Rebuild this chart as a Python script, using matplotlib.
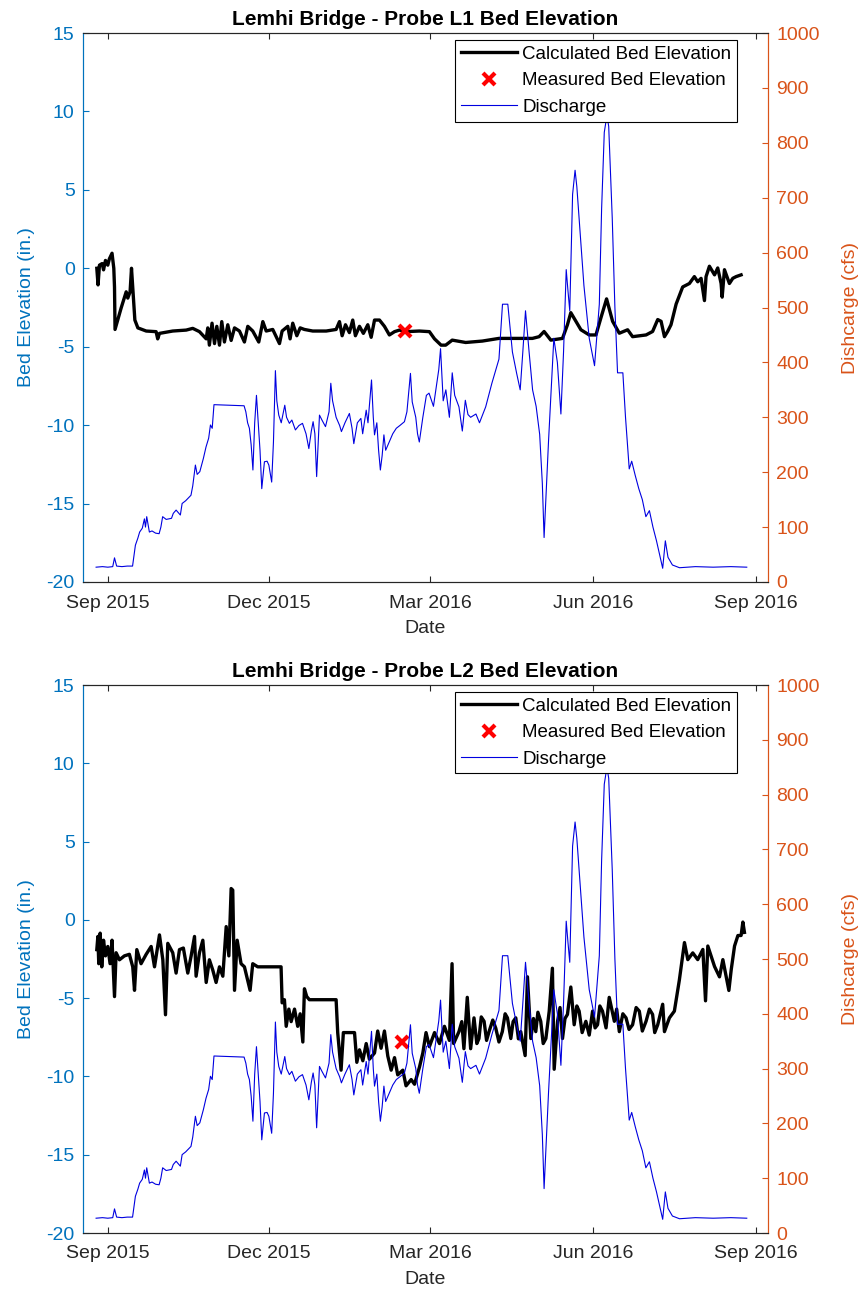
import numpy as np
import matplotlib
matplotlib.use('Agg')
import matplotlib.pyplot as plt
import matplotlib.dates as mdates

plt.rcParams['font.family'] = ['Liberation Sans', 'DejaVu Sans']
plt.rcParams['axes.unicode_minus'] = False

# dias desde 2015-09-01
inicio = np.datetime64('2015-09-01T00:00')

# --- Caudal (cfs), igual en ambas sondas ---
q_dias = [-6.6, -3, 0, 2.8, 3.8, 5, 8, 11, 14, 15.6, 17, 18, 19.5, 20.7, 21.3, 22, 23.5, 25, 27, 29,
          30, 31, 33, 36, 37, 38.6, 41, 42, 44, 47, 48, 49.5, 50.5, 52, 54, 55.5, 57, 58, 59, 60,
          77, 78, 79, 80, 81, 82, 83, 84, 85, 86, 87, 88.5, 90, 91, 92.6, 93.6, 94.7, 95.5, 96.6, 98,
          100, 101, 102.6, 104, 106, 108, 110, 112, 113.6, 115, 116, 117, 118, 119, 119.6, 121, 123, 125, 126, 127,
          129, 131, 132, 134, 136.5, 138, 139, 141, 143, 144, 146, 147, 149, 150, 150.7, 152, 153, 154, 155, 156,
          157, 159, 161, 163, 165, 167.6, 169, 171, 172, 174, 175, 176, 178, 180,
          181.5, 184, 187, 188, 189.5, 191, 193, 194.6, 196, 198.4, 200.3, 202, 203.5, 205, 208, 210, 213.5, 217,
          221, 223, 226, 228.6, 231, 233,
          234.5, 236, 238, 240, 242, 244, 245.5, 246.5, 247.5, 249, 251, 252, 254, 256, 257.5, 259, 260, 261,
          262.6, 264, 265, 267, 269, 272, 275, 277.7, 279, 280.5, 282, 283, 285, 286.5, 288, 291, 292.5, 294.6,
          296, 298, 300, 302, 304, 306, 308, 310, 313.5, 315, 316.5, 319, 323, 332, 342, 352, 361]
q_cfs = [27, 28, 27, 28, 44, 29, 28, 29, 29, 67, 80, 91, 98, 115, 100, 119, 91, 93, 89, 88,
         100, 119, 114, 116, 125, 131, 122, 143, 148, 158, 175, 213, 196, 201, 225, 246, 262, 286, 280, 323,
         321, 310, 290, 280, 250, 204, 290, 340, 290, 240, 170, 219, 220, 213, 182, 255, 385, 330, 304, 290,
         322, 300, 289, 295, 277, 285, 289, 270, 243, 275, 292, 270, 192, 260, 304, 295, 283, 310, 362, 330,
         300, 285, 274, 290, 307, 280, 252, 290, 298, 270, 313, 290, 368, 300, 268, 290, 240, 204, 230, 268,
         240, 255, 270, 280, 285, 292, 310, 380, 328, 300, 270, 255, 300, 340,
         344, 320, 387, 425, 330, 350, 300, 381, 340, 319, 275, 331, 305, 300, 306, 290, 319, 362,
         406, 506, 506, 419, 380, 350,
         420, 494, 420, 350, 320, 269, 180, 81, 150, 256, 380, 444, 400, 306, 420, 569, 530, 494,
         706, 750, 720, 631, 540, 444, 394, 506, 680, 819, 850, 830, 663, 500, 381, 381, 300, 206,
         220, 194, 170, 150, 119, 130, 100, 75, 25, 75, 45, 31, 26, 28, 27, 28, 27]

# --- Elevacion del lecho, sonda L1 (in.) ---
l1_dias = [-6.2, -5.5, -4.7, -3.2, -2.4, -1.3, 0, 0.9, 2.4, 3.4, 3.8, 4.1, 7.5, 10.4, 11.3, 12.6, 13.4, 14.5,
           15.3, 17, 21.7, 27.3, 28.2, 29.2, 36.7, 44.3, 48, 51.8, 55.6, 56.5, 57.4, 58.9, 60.3, 61.6, 63.1,
           64.4, 65.9, 67.8, 69.7, 71.6, 74.4, 77.2, 79.1, 81.9, 85.3, 87.6, 89.5, 93.2, 97, 98.5, 101.7, 103,
           104.5, 106.8, 108.7, 111.1, 115.8, 123.4, 129, 130.9, 132.4, 134.3, 136.5, 138.4, 139.9, 142.2,
           144.4, 146.9, 148.8, 150.7, 153.5, 156.3, 159.1, 162, 164.8, 168.5, 176, 181.7, 184.6, 188.3, 190.9,
           194.6, 202.2, 211.6, 221, 230.5, 239.9, 243.7, 246.5, 250.3, 256.9, 259.7, 261.6, 264.5, 267.3,
           272, 275.8, 278.6, 281.8, 285.2, 289, 293.7, 296.5, 304.1, 307.8, 310.7, 312.6, 314.5, 316.3,
           318.2, 321.1, 324.8, 328.6, 331.4, 333.3, 335.2, 337.1, 338, 339.9, 342.8, 344.6, 346.5, 347.1,
           348.4, 351.2, 353.1, 355, 357.8]
l1_elev = [0, -1.06, 0.2, 0.3, -0.1, 0.5, 0.2, 0.6, 0.96, 0, -1.2, -3.9, -2.55, -1.5, -1.9, -1.5, 0, -1.9,
           -3.3, -3.8, -4.0, -4.04, -4.5, -4.15, -4.0, -3.94, -3.83, -4.04, -4.5, -3.8, -4.9, -3.5, -4.8, -3.7, -4.9,
           -3.4, -4.7, -3.6, -4.6, -3.8, -4.0, -4.7, -3.7, -4.0, -4.7, -3.4, -4.0, -3.9, -4.8, -4.0, -3.7, -4.5,
           -3.5, -4.3, -3.8, -3.9, -4.0, -4.0, -3.9, -3.4, -4.3, -3.6, -4.1, -3.3, -4.3, -3.7,
           -4.15, -3.6, -4.4, -3.3, -3.3, -3.7, -4.25, -4.04, -3.94, -4.04, -4.0, -4.04, -4.5, -4.9, -4.9,
           -4.58, -4.73, -4.64, -4.47, -4.47, -4.47, -4.36, -4.03, -4.58, -4.47, -3.6, -2.83, -3.38, -3.92,
           -4.25, -4.25, -3.16, -1.95, -3.38, -4.14, -3.92, -4.36, -4.25, -4.03, -3.27, -3.38, -4.36, -4.03,
           -3.6, -2.28, -1.19, -0.97, -0.53, -0.86, -0.64, -2.06, -0.53, 0.13, -0.42, 0.02, -0.97, -1.84,
           -0.09, -0.97, -0.64, -0.53, -0.42]

# --- Elevacion del lecho, sonda L2 (in.) ---
l2_dias = [-6.2, -5.6, -5.1, -4.3, -3.4, -2.4, -1.3, 0, 1.3, 2.4, 3.8, 4.7, 6.6, 9.4, 12.2, 14.1, 15.1, 16.4,
           18.8, 21.7, 24.5, 26.4, 29.2, 31.1, 32.6, 33.9, 36.7, 38.6, 40.5, 42.7, 45.2, 47.1, 49, 49.9, 51.8,
           53.7, 55.6, 57.4, 59.3, 61.2, 63.1, 65, 66.9, 68.4, 69.7, 70.6, 71.6, 73.1, 75.3, 77.2, 80.4, 81.9,
           84.7, 97.9, 98.5, 99.8, 100.8, 102.3, 103.6, 105.5, 107.3, 108.7, 110.2, 111.1, 112.4, 113.9, 129,
           129.9, 131.8, 133.1, 139.4, 140.7, 142.2, 144.1, 146, 147.8, 150.7, 152.5, 154.4, 156.3, 158.2,
           160.1, 162, 163.8, 166.7, 168.5, 171.4, 173.3, 176.1, 178, 179.8, 181.7, 184.6, 187.4, 190.2, 193,
           194.5, 195.4, 198.4, 200, 201.2, 203.1, 205, 206.9, 208.5, 209.7, 211, 212.6, 214, 215.4, 217.5,
           219.2, 221, 222.9, 224.5, 225.8, 227.7, 229, 230.5, 232, 233.3, 235.8, 237.1, 239, 240.5, 241.8,
           243, 244.6, 246, 247.5, 249.4, 251.2, 252.2, 254.1, 255.5, 256.9, 258.3, 259.7, 261.6, 263.5,
           265, 266.3, 268, 270.1, 272, 273.9, 275.3, 276.7, 278, 279.5, 281.5, 283.3, 286.2, 287.5, 289,
           291, 292.8, 294.5, 296.5, 298.5, 300.3, 302, 304.1, 306, 307.8, 309, 310.7, 313.5, 314.5, 317.3,
           320.1, 322.9, 325.8, 327.7, 330.5, 333.3, 336.2, 337.7, 339, 342.8, 345.6, 347.5, 350.9, 352.2,
           354.1, 356, 357.8, 358.8, 359.7]
l2_elev = [-1.9, -1.06, -2.8, -0.85, -3.0, -1.3, -2.3, -1.7, -2.8, -1.3, -4.9, -2.1, -2.55, -2.3, -2.2, -3.0,
           -4.5, -1.9, -2.8, -2.2, -1.7, -3.0, -0.96, -2.55, -6.06, -1.5, -2.1, -3.4, -1.9, -1.8, -3.4, -2.3,
           -1.06, -3.6, -2.1, -1.3, -4.0, -2.55, -3.2, -4.0, -3.0, -3.6, -0.43, -2.3, 2.0, 1.9, -4.5, -1.3, -2.8,
           -3.0, -4.5, -2.8, -3.0, -3.0, -5.3, -5.1, -6.8, -5.7, -6.5, -5.7, -6.8, -6.0, -7.8, -4.4, -4.9, -5.1,
           -5.1, -7.2, -9.6, -7.2, -7.2, -9.1, -8.3, -9.0, -7.9, -8.9, -8.5, -7.1, -8.2, -7.1, -8.7, -9.6, -8.8,
           -9.9, -9.6, -10.6, -10.2, -10.5, -9.4, -8.5, -7.2, -8.1, -7.2, -7.9, -6.8, -7.7,
           -2.8, -7.9, -7.14, -6.5, -8.23, -4.95, -8.23, -6.26, -7.9, -7.58, -6.2, -6.48, -7.7, -7.14, -6.4,
           -6.92, -7.8, -7.14, -6.0, -6.26, -7.58, -6.5, -6.26, -7.6, -7.14, -8.67, -3.64, -7.58, -6.3, -7.14,
           -5.9, -6.48, -7.9, -7.58, -5.83, -3.09, -9.54, -6.48, -5.6, -7.58, -6.3, -6.04, -4.29, -6.7,
           -5.5, -5.83, -7.2, -6.48, -7.36, -5.83, -6.9, -6.7, -5.5, -5.83, -6.9, -4.95, -6.48, -5.7, -7.14,
           -6.0, -6.26, -7.0, -6.7, -5.6, -5.83, -7.1, -6.48, -5.7, -6.04, -7.2, -6.7, -5.39, -7.14, -6.26,
           -5.83, -3.86, -1.45, -2.54, -2.11, -2.54, -1.89, -5.17, -1.67, -2.98, -3.64, -2.54, -4.51, -3.2,
           -1.67, -1.0, -1.0, -0.14, -0.8]

# --- Elevacion medida ---
medida_dia = [168.0, 166.0]
medida_elev = [-4.0, -7.8]

sondas = ['L1', 'L2']
calculadas = [(l1_dias, l1_elev), (l2_dias, l2_elev)]

azul_eje = '#0072BD'
naranja_eje = '#D95319'
gris = '#262626'
fs = 14

def a_fecha(dias):
    return inicio + (np.array(dias) * 24 * 60).astype('timedelta64[m]')

fig = plt.figure(figsize=(8.65, 12.99), dpi=100)
posiciones = [[83/865, 1-582/1299, 685/865, 549/1299],
              [83/865, 1-1233/1299, 685/865, 548/1299]]

for k in range(2):
    ax = fig.add_axes(posiciones[k])
    ax2 = ax.twinx()

    d, e = calculadas[k]
    l_calc, = ax.plot(a_fecha(d), e, color='black', linewidth=2.4, label='Calculated Bed Elevation')
    l_med, = ax.plot(a_fecha([medida_dia[k]]), [medida_elev[k]], linestyle='none', marker='x',
                     color='red', markersize=8, markeredgewidth=3, label='Measured Bed Elevation')
    l_q, = ax2.plot(a_fecha(q_dias), q_cfs, color='#0000E0', linewidth=0.8, label='Discharge')

    ax.set_ylim(-20, 15)
    ax.set_yticks(np.arange(-20, 16, 5))
    ax2.set_ylim(0, 1000)
    ax2.set_yticks(np.arange(0, 1001, 100))
    ax.set_xlim(np.datetime64('2015-08-18'), np.datetime64('2016-09-08'))
    ax.xaxis.set_major_locator(mdates.MonthLocator(bymonth=[3, 6, 9, 12]))
    ax.xaxis.set_major_formatter(mdates.DateFormatter('%b %Y'))

    ax.tick_params(axis='x', direction='in', top=True, length=4, labelsize=fs, colors=gris, pad=9)
    ax.tick_params(axis='y', direction='in', length=4, labelsize=fs, colors=azul_eje, pad=6)
    ax2.tick_params(axis='y', direction='in', length=4, labelsize=fs, colors=naranja_eje, pad=6)
    ax2.tick_params(axis='x', top=False, bottom=False)

    for a in (ax, ax2):
        a.spines['left'].set_color(azul_eje)
        a.spines['right'].set_color(naranja_eje)
        a.spines['top'].set_color(gris)
        a.spines['bottom'].set_color(gris)
        for s in a.spines.values():
            s.set_linewidth(0.8)

    ax.set_ylabel('Bed Elevation (in.)', color=azul_eje, fontsize=fs, labelpad=8)
    ax2.set_ylabel('Dishcarge (cfs)', color=naranja_eje, fontsize=fs, labelpad=16)
    ax.set_xlabel('Date', color=gris, fontsize=fs, labelpad=6)
    ax.set_title(f'Lemhi Bridge - Probe {sondas[k]} Bed Elevation', fontsize=15,
                 fontweight='bold', pad=6)

    leg = ax2.legend([l_calc, l_med, l_q], [l.get_label() for l in (l_calc, l_med, l_q)],
                     loc='upper right', bbox_to_anchor=(0.955, 0.987), borderaxespad=0,
                     fontsize=13.5, fancybox=False, framealpha=1, edgecolor='black',
                     handlelength=3.0, handletextpad=0.3, labelspacing=0.5, borderpad=0.3)
    leg.get_frame().set_linewidth(0.8)

fig.savefig('out.png', dpi=100)
